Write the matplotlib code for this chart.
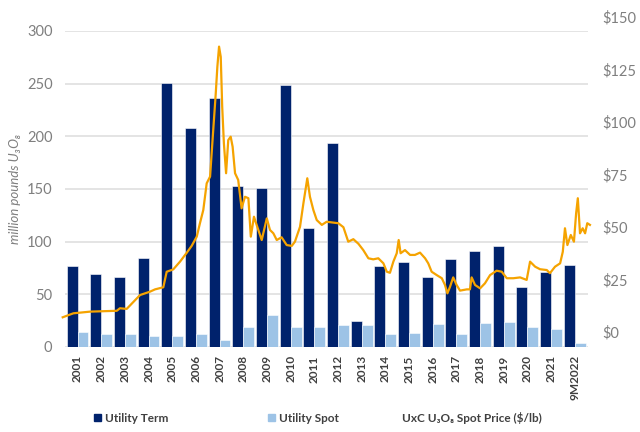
import matplotlib
matplotlib.use('Agg')
import matplotlib.pyplot as plt
from matplotlib.lines import Line2D
from matplotlib.patches import Patch

plt.rcParams['font.family'] = ['Lato', 'DejaVu Sans']

# --- data ---
years = ['2001', '2002', '2003', '2004', '2005', '2006', '2007', '2008', '2009', '2010', '2011',
         '2012', '2013', '2014', '2015', '2016', '2017', '2018', '2019', '2020', '2021', '9M2022']
utility_term = [77, 69, 66.5, 84.5, 251, 208, 236, 152.6, 151.3, 249, 113,
                194, 25, 77, 80.7, 66.5, 83.3, 91.2, 96, 57.3, 71.2, 78]
utility_spot = [14.5, 12.3, 12.3, 10.4, 10.4, 12.3, 6.6, 19.3, 30.7, 19.3, 19.3,
                20.6, 20.9, 12.3, 13.6, 22.1, 12.3, 22.8, 23.4, 19, 17, 3.8]

# UxC U3O8 spot price, decimal year vs $/lb
price_dates = [2001.00, 2001.44, 2002.13, 2003.23, 2003.36, 2003.64, 2004.19, 2004.60, 2004.81,
               2005.15, 2005.29, 2005.56, 2005.84, 2006.12, 2006.32, 2006.53, 2006.66, 2006.80,
               2006.94, 2007.08, 2007.21, 2007.31, 2007.38, 2007.45, 2007.52, 2007.58, 2007.65,
               2007.74, 2007.83, 2007.93, 2008.01, 2008.11, 2008.24, 2008.38, 2008.52, 2008.66,
               2008.76, 2008.89, 2009.07, 2009.21, 2009.42, 2009.55, 2009.69, 2009.83, 2010.03,
               2010.24, 2010.45, 2010.58, 2010.79, 2010.93, 2011.09, 2011.20, 2011.34, 2011.48,
               2011.69, 2011.89, 2012.16, 2012.37, 2012.58, 2012.78, 2012.99, 2013.20, 2013.40,
               2013.61, 2013.81, 2014.02, 2014.23, 2014.37, 2014.50, 2014.64, 2014.78, 2014.86,
               2014.94, 2015.12, 2015.33, 2015.53, 2015.74, 2015.95, 2016.08, 2016.22, 2016.43,
               2016.64, 2016.77, 2016.87, 2016.98, 2017.11, 2017.25, 2017.39, 2017.67, 2017.80,
               2017.87, 2018.01, 2018.22, 2018.42, 2018.63, 2018.90, 2019.11, 2019.32, 2019.59,
               2019.87, 2020.14, 2020.28, 2020.49, 2020.69, 2020.97, 2021.10, 2021.31, 2021.52,
               2021.63, 2021.72, 2021.82, 2021.96, 2022.09, 2022.18, 2022.25, 2022.34, 2022.45,
               2022.55, 2022.64, 2022.75]
price_values = [7.0, 8.9, 9.7, 10.1, 11.3, 11.0, 17.6, 19.2, 20.3,
                21.3, 28.7, 29.8, 33.5, 37.8, 41.0, 45.4, 51.7, 58.1,
                70.8, 74.0, 96.2, 112.9, 126.3, 135.9, 131.0, 107.3, 89.8,
                75.6, 91.4, 93.0, 88.2, 75.6, 72.4, 58.9, 64.4, 63.7,
                45.4, 54.9, 48.6, 43.8, 54.1, 48.6, 47.0, 43.8, 45.1,
                41.4, 41.0, 43.0, 50.1, 61.3, 73.2, 64.4, 58.1, 53.3,
                51.0, 52.5, 52.1, 51.8, 49.9, 43.0, 44.2, 42.0, 39.0,
                35.1, 34.6, 35.1, 32.7, 28.7, 28.2, 33.5, 37.5, 43.8,
                37.5, 39.0, 36.7, 36.7, 37.8, 35.1, 32.7, 28.7, 27.1,
                25.6, 22.4, 18.4, 21.6, 26.0, 22.4, 19.7, 20.3, 20.3,
                26.0, 22.4, 20.8, 23.2, 27.1, 29.2, 28.7, 25.6, 25.6,
                26.0, 24.8, 33.5, 31.1, 29.9, 29.5, 28.0, 31.1, 32.7,
                38.2, 49.4, 41.4, 46.2, 43.0, 56.5, 63.7, 47.0, 49.4,
                47.0, 51.8, 51.0]

TERM_COLOR = '#00226c'
SPOT_COLOR = '#9dc3e6'
LINE_COLOR = '#f5a300'
GRID_COLOR = '#e2e2e2'
TICK_GRAY = '#7f7f7f'
DARK_TEXT = '#404040'

fig = plt.figure(figsize=(6.4, 4.32), dpi=100)

# primary axes: bars (million pounds)
ax = fig.add_axes([65 / 640, 85 / 432, 523 / 640, 316 / 432])
x = list(range(len(years)))
w = 0.46
ax.bar([i - w / 2 for i in x], utility_term, width=w, color=TERM_COLOR,
       edgecolor='white', linewidth=0.4, label='Utility Term', zorder=2)
ax.bar([i + w / 2 for i in x], utility_spot, width=w, color=SPOT_COLOR,
       edgecolor='white', linewidth=0.4, label='Utility Spot', zorder=2)

ax.set_xlim(-0.53, 21.56)
ax.set_ylim(0, 300)
ax.set_yticks(range(0, 301, 50))
ax.set_xticks(x)
ax.set_xticklabels(years, rotation=90, fontsize=8.5, fontweight='bold', color=DARK_TEXT)
ax.tick_params(axis='x', length=0, pad=6)
ax.tick_params(axis='y', length=0, pad=9, labelsize=10.5, labelcolor=TICK_GRAY)
ax.grid(axis='y', color=GRID_COLOR, linewidth=1.3, zorder=0)
ax.set_axisbelow(True)
for s in ax.spines.values():
    s.set_visible(False)
ax.set_ylabel('million pounds U₃O₈', fontsize=9.5, style='italic', color=TICK_GRAY, labelpad=4)

# secondary axes for the price line (its frame sits a bit higher, as in the original)
ax2 = fig.add_axes([65 / 640, 100 / 432, 523 / 640, 315 / 432])
ax2.patch.set_visible(False)
ax2.plot(price_dates, price_values, color=LINE_COLOR, linewidth=1.6, clip_on=False)
ax2.set_xlim(2001.095, 2022.67)
ax2.set_ylim(0, 150)
ax2.set_xticks([])
ax2.yaxis.tick_right()
ax2.set_yticks(range(0, 151, 25))
ax2.set_yticklabels(['$' + str(v) for v in range(0, 151, 25)])
ax2.tick_params(axis='y', length=0, pad=10, labelsize=10.5, labelcolor=TICK_GRAY)
for s in ax2.spines.values():
    s.set_visible(False)

# legend entries, spaced as in the reference
leg_y = (432 - 418) / 432
fig.legend(handles=[Patch(color=TERM_COLOR)], labels=['Utility Term'], loc='center left',
           bbox_to_anchor=(94 / 640, leg_y), frameon=False, handlelength=0.6, handleheight=0.6,
           handletextpad=0.3, borderpad=0, borderaxespad=0,
           prop={'size': 8.5, 'weight': 'bold'}, labelcolor=DARK_TEXT)
fig.legend(handles=[Patch(color=SPOT_COLOR)], labels=['Utility Spot'], loc='center left',
           bbox_to_anchor=(268 / 640, leg_y), frameon=False, handlelength=0.6, handleheight=0.6,
           handletextpad=0.3, borderpad=0, borderaxespad=0,
           prop={'size': 8.5, 'weight': 'bold'}, labelcolor=DARK_TEXT)
fig.legend(handles=[Line2D([], [], color='none')], labels=['UxC U₃O₈ Spot Price ($/lb)'],
           loc='center left', bbox_to_anchor=(402 / 640, leg_y), frameon=False,
           handlelength=0, handletextpad=0, borderpad=0, borderaxespad=0,
           prop={'size': 8.5, 'weight': 'bold'}, labelcolor=DARK_TEXT)

fig.savefig('out.png', dpi=100)
